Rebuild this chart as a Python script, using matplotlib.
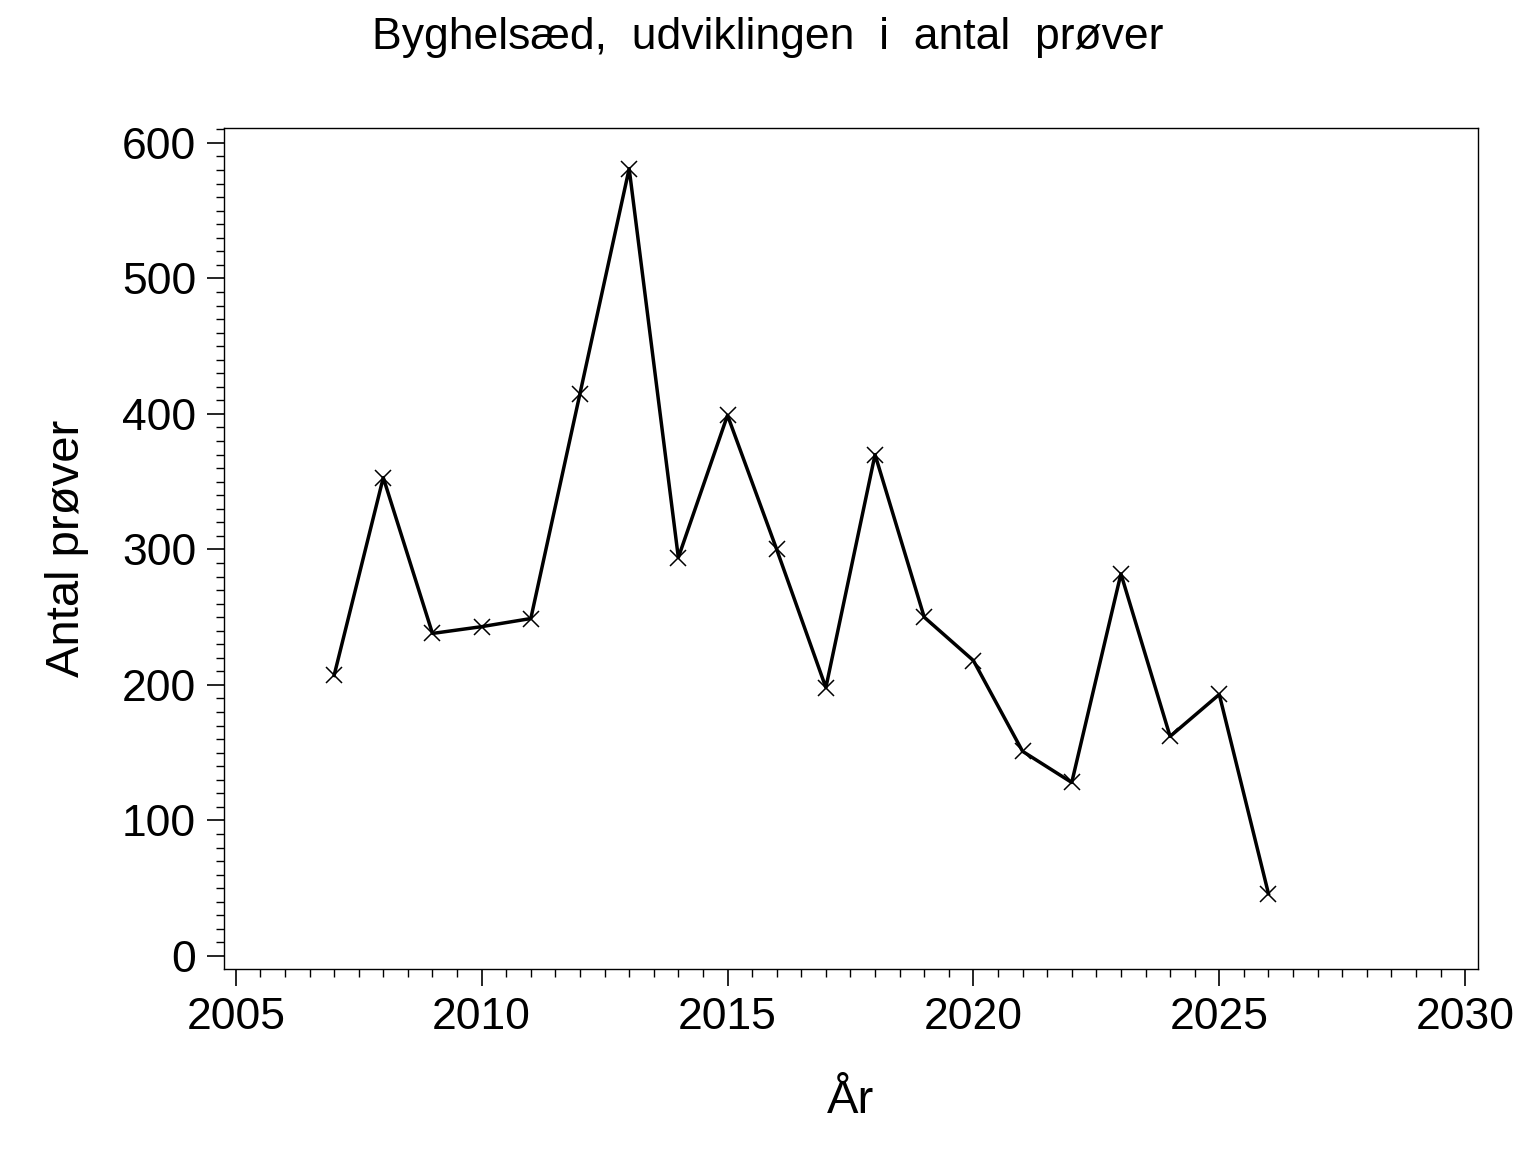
import matplotlib
matplotlib.use('Agg')
import matplotlib.pyplot as plt
from matplotlib.ticker import MultipleLocator

years = [2007, 2008, 2009, 2010, 2011, 2012, 2013, 2014, 2015, 2016,
         2017, 2018, 2019, 2020, 2021, 2022, 2023, 2024, 2025, 2026]
counts = [207, 353, 238, 243, 249, 415, 581, 294, 399, 300,
          198, 370, 250, 218, 151, 128, 282, 162, 193, 46]

plt.rcParams['font.family'] = ['Liberation Sans', 'DejaVu Sans']

fig = plt.figure(figsize=(15.36, 11.52), dpi=100)
ax = fig.add_axes([0.1458, 0.1589, 0.8164, 0.73])
ax.plot(years, counts, color='black', linewidth=2.5, marker='x',
        markersize=12, markeredgewidth=1.1)

ax.set_xlim(2004.76, 2030.26)
ax.set_ylim(-9.6, 611)
ax.xaxis.set_major_locator(MultipleLocator(5))
ax.xaxis.set_minor_locator(MultipleLocator(0.5))
ax.yaxis.set_major_locator(MultipleLocator(100))
ax.yaxis.set_minor_locator(MultipleLocator(10))
ax.tick_params(which='major', direction='out', length=12, width=1.2, labelsize=32, pad=8)
ax.tick_params(which='minor', direction='out', length=6, width=1)
for s in ax.spines.values():
    s.set_linewidth(1)

ax.set_xlabel('År', fontsize=34, labelpad=30)
ax.set_ylabel('Antal prøver', fontsize=34, labelpad=24)
fig.suptitle('Byghelsæd,  udviklingen  i  antal  prøver', fontsize=32, y=0.985)

fig.savefig('out.png', dpi=100)
